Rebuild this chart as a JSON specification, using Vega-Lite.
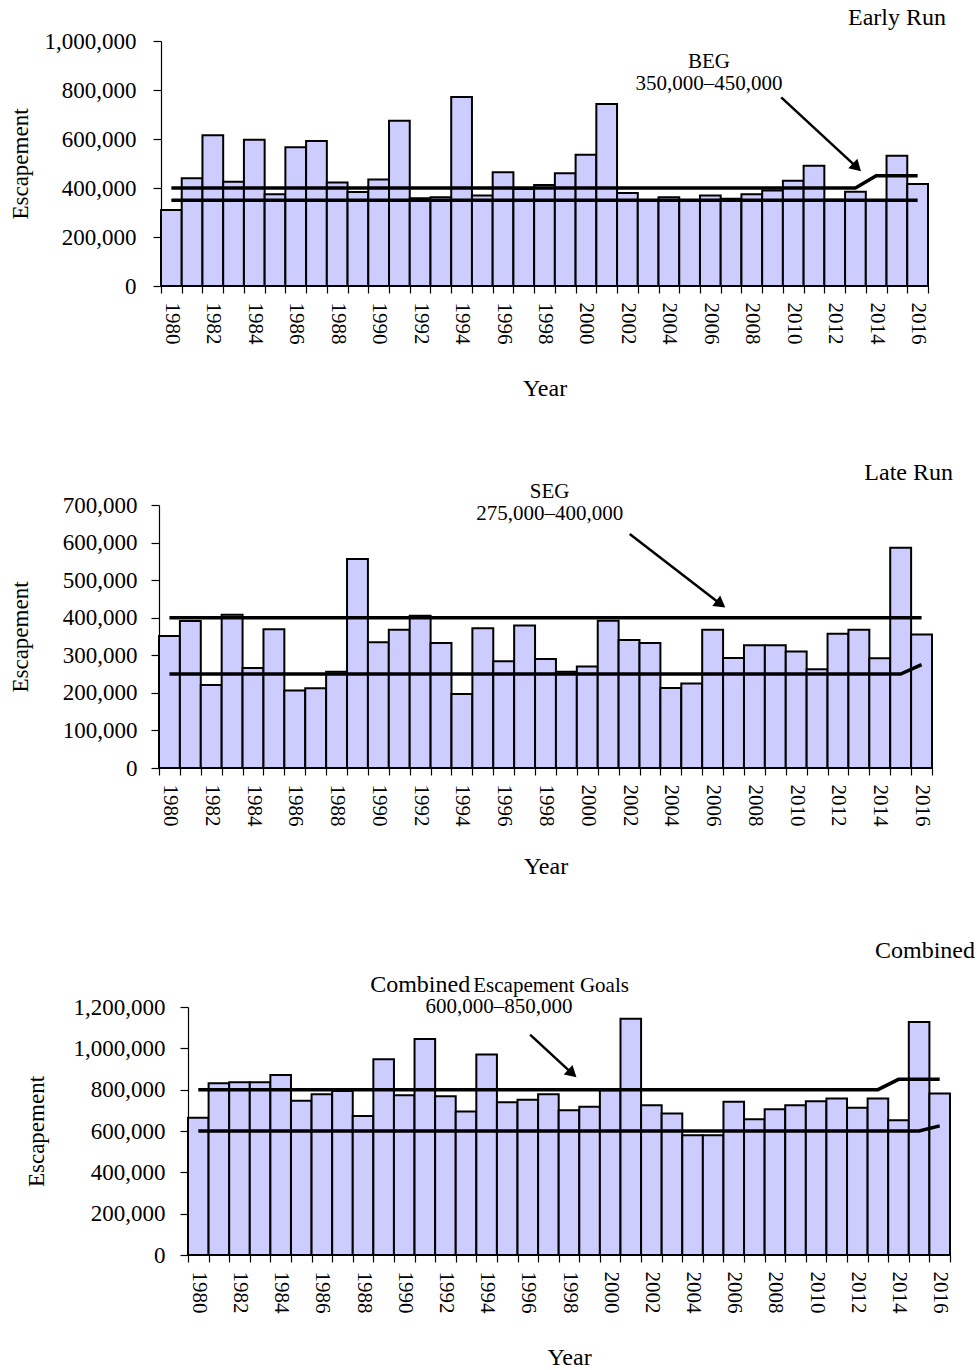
{
  "$schema": "https://vega.github.io/schema/vega-lite/v6.json",
  "background": "white",
  "padding": {"left": 8, "top": 6, "right": 5, "bottom": 0},
  "spacing": 60,
  "config": {
    "view": {"stroke": null},
    "font": "Liberation Serif",
    "axis": {"domainColor": "black", "tickColor": "black", "labelColor": "black", "titleColor": "black", "labelFont": "Liberation Serif", "titleFont": "Liberation Serif", "titleFontWeight": "normal", "grid": false, "domainWidth": 1.2, "tickWidth": 1.2},
    "axisX": {"labelAngle": 90, "labelFontSize": 21, "labelPadding": 9, "tickSize": 7, "tickBand": "extent", "titleFontSize": 24, "labelOverlap": false, "labelExpr": "datum.value % 2 == 0 ? datum.label : ''"},
    "axisY": {"labelFontSize": 23, "titleFontSize": 23, "tickSize": 8, "format": ",d", "labelOverlap": false},
    "title": {"font": "Liberation Serif", "fontWeight": "normal", "color": "black", "fontSize": 24, "anchor": "end", "frame": "group", "baseline": "alphabetic"},
    "text": {"font": "Liberation Serif", "color": "black"}
  },
  "datasets": {
    "early": [
      {"year": 1980, "escapement": 310000}, {"year": 1981, "escapement": 440000}, {"year": 1982, "escapement": 615000}, {"year": 1983, "escapement": 426000}, {"year": 1984, "escapement": 597000}, {"year": 1985, "escapement": 375000}, {"year": 1986, "escapement": 566000}, {"year": 1987, "escapement": 592000}, {"year": 1988, "escapement": 422000}, {"year": 1989, "escapement": 384000}, {"year": 1990, "escapement": 435000}, {"year": 1991, "escapement": 675000}, {"year": 1992, "escapement": 358000}, {"year": 1993, "escapement": 362000}, {"year": 1994, "escapement": 771000}, {"year": 1995, "escapement": 369000}, {"year": 1996, "escapement": 464000}, {"year": 1997, "escapement": 396000}, {"year": 1998, "escapement": 412000}, {"year": 1999, "escapement": 460000}, {"year": 2000, "escapement": 536000}, {"year": 2001, "escapement": 743000}, {"year": 2002, "escapement": 380000}, {"year": 2003, "escapement": 350000}, {"year": 2004, "escapement": 362000}, {"year": 2005, "escapement": 347000}, {"year": 2006, "escapement": 369000}, {"year": 2007, "escapement": 356000}, {"year": 2008, "escapement": 375000}, {"year": 2009, "escapement": 390000}, {"year": 2010, "escapement": 430000}, {"year": 2011, "escapement": 491000}, {"year": 2012, "escapement": 352000}, {"year": 2013, "escapement": 385000}, {"year": 2014, "escapement": 350000}, {"year": 2015, "escapement": 532000}, {"year": 2016, "escapement": 416000}
    ],
    "late": [
      {"year": 1980, "escapement": 351000}, {"year": 1981, "escapement": 391000}, {"year": 1982, "escapement": 221000}, {"year": 1983, "escapement": 408000}, {"year": 1984, "escapement": 266000}, {"year": 1985, "escapement": 369000}, {"year": 1986, "escapement": 206000}, {"year": 1987, "escapement": 212000}, {"year": 1988, "escapement": 256000}, {"year": 1989, "escapement": 556000}, {"year": 1990, "escapement": 335000}, {"year": 1991, "escapement": 368000}, {"year": 1992, "escapement": 405000}, {"year": 1993, "escapement": 333000}, {"year": 1994, "escapement": 197000}, {"year": 1995, "escapement": 372000}, {"year": 1996, "escapement": 284000}, {"year": 1997, "escapement": 379000}, {"year": 1998, "escapement": 290000}, {"year": 1999, "escapement": 256000}, {"year": 2000, "escapement": 270000}, {"year": 2001, "escapement": 392000}, {"year": 2002, "escapement": 341000}, {"year": 2003, "escapement": 333000}, {"year": 2004, "escapement": 213000}, {"year": 2005, "escapement": 225000}, {"year": 2006, "escapement": 368000}, {"year": 2007, "escapement": 293000}, {"year": 2008, "escapement": 327000}, {"year": 2009, "escapement": 327000}, {"year": 2010, "escapement": 310000}, {"year": 2011, "escapement": 263000}, {"year": 2012, "escapement": 357000}, {"year": 2013, "escapement": 368000}, {"year": 2014, "escapement": 292000}, {"year": 2015, "escapement": 586000}, {"year": 2016, "escapement": 355000}
    ],
    "combined": [
      {"year": 1980, "escapement": 664000}, {"year": 1981, "escapement": 831000}, {"year": 1982, "escapement": 836000}, {"year": 1983, "escapement": 836000}, {"year": 1984, "escapement": 871000}, {"year": 1985, "escapement": 746000}, {"year": 1986, "escapement": 778000}, {"year": 1987, "escapement": 794000}, {"year": 1988, "escapement": 672000}, {"year": 1989, "escapement": 947000}, {"year": 1990, "escapement": 773000}, {"year": 1991, "escapement": 1045000}, {"year": 1992, "escapement": 768000}, {"year": 1993, "escapement": 694000}, {"year": 1994, "escapement": 970000}, {"year": 1995, "escapement": 739000}, {"year": 1996, "escapement": 751000}, {"year": 1997, "escapement": 778000}, {"year": 1998, "escapement": 700000}, {"year": 1999, "escapement": 717000}, {"year": 2000, "escapement": 797000}, {"year": 2001, "escapement": 1143000}, {"year": 2002, "escapement": 725000}, {"year": 2003, "escapement": 685000}, {"year": 2004, "escapement": 580000}, {"year": 2005, "escapement": 580000}, {"year": 2006, "escapement": 741000}, {"year": 2007, "escapement": 657000}, {"year": 2008, "escapement": 705000}, {"year": 2009, "escapement": 725000}, {"year": 2010, "escapement": 744000}, {"year": 2011, "escapement": 757000}, {"year": 2012, "escapement": 712000}, {"year": 2013, "escapement": 757000}, {"year": 2014, "escapement": 652000}, {"year": 2015, "escapement": 1127000}, {"year": 2016, "escapement": 781000}
    ],
    "earlyGoal": [
      {"year": 1980, "goal": 400000, "bound": "upper"}, {"year": 2013, "goal": 400000, "bound": "upper"}, {"year": 2014, "goal": 450000, "bound": "upper"}, {"year": 2016, "goal": 450000, "bound": "upper"},
      {"year": 1980, "goal": 350000, "bound": "lower"}, {"year": 2016, "goal": 350000, "bound": "lower"}
    ],
    "lateGoal": [
      {"year": 1980, "goal": 400000, "bound": "upper"}, {"year": 2016, "goal": 400000, "bound": "upper"},
      {"year": 1980, "goal": 250000, "bound": "lower"}, {"year": 2015, "goal": 250000, "bound": "lower"}, {"year": 2016, "goal": 275000, "bound": "lower"}
    ],
    "combGoal": [
      {"year": 1980, "goal": 800000, "bound": "upper"}, {"year": 2013, "goal": 800000, "bound": "upper"}, {"year": 2014, "goal": 850000, "bound": "upper"}, {"year": 2016, "goal": 850000, "bound": "upper"},
      {"year": 1980, "goal": 600000, "bound": "lower"}, {"year": 2015, "goal": 600000, "bound": "lower"}, {"year": 2016, "goal": 625000, "bound": "lower"}
    ],
    "earlyArrow": [{"x0": 2009.42, "y0": 770000, "x1": 2013.07, "y1": 484000}],
    "lateArrow": [{"x0": 2002.03, "y0": 623000, "x1": 2006.39, "y1": 436000}],
    "combArrow": [{"x0": 1996.11, "y0": 1066000, "x1": 1998.16, "y1": 878000}],
    "earlyText": [{"tx": 2005.93, "ty": 913000, "label": "BEG"}, {"tx": 2005.93, "ty": 824000, "label": "350,000–450,000"}],
    "lateText": [{"tx": 1998.2, "ty": 735000, "label": "SEG"}, {"tx": 1998.2, "ty": 676000, "label": "275,000–400,000"}],
    "combTextBig": [{"tx": 1993.2, "ty": 1274000, "label": "Combined"}],
    "combTextSmall": [{"tx": 1993.35, "ty": 1274000, "label": "Escapement Goals"}],
    "combTextRange": [{"tx": 1994.6, "ty": 1201000, "label": "600,000–850,000"}],
    "none": []
  },
  "vconcat": [
    {
      "spacing": 0,
      "hconcat": [
        {"width": 1, "height": 1, "data": {"name": "none"}, "mark": "point"},
        {
          "width": 767,
          "height": 245,
          "title": {"text": "Early Run", "dx": 18, "offset": 0},
          "layer": [
            {
              "layer": [
                {
                  "data": {"name": "early"},
                  "mark": {"type": "bar", "fill": "#ccccff", "stroke": "black", "strokeWidth": 2},
                  "encoding": {
                    "x": {"field": "year", "type": "ordinal", "scale": {"domain": [1980,1981,1982,1983,1984,1985,1986,1987,1988,1989,1990,1991,1992,1993,1994,1995,1996,1997,1998,1999,2000,2001,2002,2003,2004,2005,2006,2007,2008,2009,2010,2011,2012,2013,2014,2015,2016], "paddingInner": 0, "paddingOuter": 0}, "axis": {"title": "Year", "titlePadding": 32}},
                    "y": {"field": "escapement", "type": "quantitative", "scale": {"domain": [0, 1000000], "nice": false}, "axis": {"title": "Escapement", "values": [0, 200000, 400000, 600000, 800000, 1000000], "titlePadding": 12, "labelPadding": 17}}
                  }
                },
                {
                  "data": {"name": "earlyGoal"},
                  "mark": {"type": "line", "color": "black", "strokeWidth": 3.5},
                  "encoding": {
                    "x": {"field": "year", "type": "ordinal"},
                    "y": {"field": "goal", "type": "quantitative", "axis": {"title": "Escapement", "values": [0, 200000, 400000, 600000, 800000, 1000000], "titlePadding": 12, "labelPadding": 17}},
                    "detail": {"field": "bound"}
                  }
                }
              ]
            },
            {
              "layer": [
                {
                  "data": {"name": "earlyArrow"},
                  "mark": {"type": "rule", "color": "black", "strokeWidth": 2.5},
                  "encoding": {
                    "x": {"field": "x0", "type": "quantitative", "scale": {"domain": [1979.5, 2016.5], "nice": false, "zero": false}, "axis": null},
                    "y": {"field": "y0", "type": "quantitative", "axis": {"title": "Escapement", "values": [0, 200000, 400000, 600000, 800000, 1000000], "titlePadding": 12, "labelPadding": 17}},
                    "x2": {"field": "x1"},
                    "y2": {"field": "y1"}
                  }
                },
                {
                  "data": {"name": "earlyArrow"},
                  "mark": {"type": "point", "shape": "triangle-up", "filled": true, "color": "black", "opacity": 1, "size": 170, "angle": 134},
                  "encoding": {
                    "x": {"field": "x1", "type": "quantitative"},
                    "y": {"field": "y1", "type": "quantitative", "axis": {"title": "Escapement", "values": [0, 200000, 400000, 600000, 800000, 1000000], "titlePadding": 12, "labelPadding": 17}}
                  }
                },
                {
                  "data": {"name": "earlyText"},
                  "mark": {"type": "text", "fontSize": 21, "align": "center", "baseline": "middle"},
                  "encoding": {
                    "x": {"field": "tx", "type": "quantitative"},
                    "y": {"field": "ty", "type": "quantitative", "axis": {"title": "Escapement", "values": [0, 200000, 400000, 600000, 800000, 1000000], "titlePadding": 12, "labelPadding": 17}},
                    "text": {"field": "label"}
                  }
                }
              ]
            }
          ],
          "resolve": {"scale": {"x": "independent"}}
        }
      ]
    },
    {
      "spacing": 0,
      "hconcat": [
        {"width": 1, "height": 1, "data": {"name": "none"}, "mark": "point"},
        {
          "width": 773,
          "height": 263,
          "title": {"text": "Late Run", "dx": 21, "offset": -4},
          "layer": [
            {
              "layer": [
                {
                  "data": {"name": "late"},
                  "mark": {"type": "bar", "fill": "#ccccff", "stroke": "black", "strokeWidth": 2},
                  "encoding": {
                    "x": {"field": "year", "type": "ordinal", "scale": {"domain": [1980,1981,1982,1983,1984,1985,1986,1987,1988,1989,1990,1991,1992,1993,1994,1995,1996,1997,1998,1999,2000,2001,2002,2003,2004,2005,2006,2007,2008,2009,2010,2011,2012,2013,2014,2015,2016], "paddingInner": 0, "paddingOuter": 0}, "axis": {"title": "Year", "titlePadding": 28}},
                    "y": {"field": "escapement", "type": "quantitative", "scale": {"domain": [0, 700000], "nice": false}, "axis": {"title": "Escapement", "values": [0, 100000, 200000, 300000, 400000, 500000, 600000, 700000], "titlePadding": 30, "labelPadding": 14}}
                  }
                },
                {
                  "data": {"name": "lateGoal"},
                  "mark": {"type": "line", "color": "black", "strokeWidth": 3.5},
                  "encoding": {
                    "x": {"field": "year", "type": "ordinal"},
                    "y": {"field": "goal", "type": "quantitative", "axis": {"title": "Escapement", "values": [0, 100000, 200000, 300000, 400000, 500000, 600000, 700000], "titlePadding": 30, "labelPadding": 14}},
                    "detail": {"field": "bound"}
                  }
                }
              ]
            },
            {
              "layer": [
                {
                  "data": {"name": "lateArrow"},
                  "mark": {"type": "rule", "color": "black", "strokeWidth": 2.5},
                  "encoding": {
                    "x": {"field": "x0", "type": "quantitative", "scale": {"domain": [1979.5, 2016.5], "nice": false, "zero": false}, "axis": null},
                    "y": {"field": "y0", "type": "quantitative", "axis": {"title": "Escapement", "values": [0, 100000, 200000, 300000, 400000, 500000, 600000, 700000], "titlePadding": 30, "labelPadding": 14}},
                    "x2": {"field": "x1"},
                    "y2": {"field": "y1"}
                  }
                },
                {
                  "data": {"name": "lateArrow"},
                  "mark": {"type": "point", "shape": "triangle-up", "filled": true, "color": "black", "opacity": 1, "size": 170, "angle": 127},
                  "encoding": {
                    "x": {"field": "x1", "type": "quantitative"},
                    "y": {"field": "y1", "type": "quantitative", "axis": {"title": "Escapement", "values": [0, 100000, 200000, 300000, 400000, 500000, 600000, 700000], "titlePadding": 30, "labelPadding": 14}}
                  }
                },
                {
                  "data": {"name": "lateText"},
                  "mark": {"type": "text", "fontSize": 21, "align": "center", "baseline": "middle"},
                  "encoding": {
                    "x": {"field": "tx", "type": "quantitative"},
                    "y": {"field": "ty", "type": "quantitative", "axis": {"title": "Escapement", "values": [0, 100000, 200000, 300000, 400000, 500000, 600000, 700000], "titlePadding": 30, "labelPadding": 14}},
                    "text": {"field": "label"}
                  }
                }
              ]
            }
          ],
          "resolve": {"scale": {"x": "independent"}}
        }
      ]
    },
    {
      "spacing": 0,
      "hconcat": [
        {"width": 17, "height": 1, "data": {"name": "none"}, "mark": "point"},
        {
          "width": 762,
          "height": 248,
          "title": {"text": "Combined", "dx": 25, "offset": 10},
          "layer": [
            {
              "layer": [
                {
                  "data": {"name": "combined"},
                  "mark": {"type": "bar", "fill": "#ccccff", "stroke": "black", "strokeWidth": 2},
                  "encoding": {
                    "x": {"field": "year", "type": "ordinal", "scale": {"domain": [1980,1981,1982,1983,1984,1985,1986,1987,1988,1989,1990,1991,1992,1993,1994,1995,1996,1997,1998,1999,2000,2001,2002,2003,2004,2005,2006,2007,2008,2009,2010,2011,2012,2013,2014,2015,2016], "paddingInner": 0, "paddingOuter": 0}, "axis": {"title": "Year", "titlePadding": 32}},
                    "y": {"field": "escapement", "type": "quantitative", "scale": {"domain": [0, 1200000], "nice": false}, "axis": {"title": "Escapement", "values": [0, 200000, 400000, 600000, 800000, 1000000, 1200000], "titlePadding": 25, "labelPadding": 15}}
                  }
                },
                {
                  "data": {"name": "combGoal"},
                  "mark": {"type": "line", "color": "black", "strokeWidth": 3.5},
                  "encoding": {
                    "x": {"field": "year", "type": "ordinal"},
                    "y": {"field": "goal", "type": "quantitative", "axis": {"title": "Escapement", "values": [0, 200000, 400000, 600000, 800000, 1000000, 1200000], "titlePadding": 25, "labelPadding": 15}},
                    "detail": {"field": "bound"}
                  }
                }
              ]
            },
            {
              "layer": [
                {
                  "data": {"name": "combArrow"},
                  "mark": {"type": "rule", "color": "black", "strokeWidth": 2.5},
                  "encoding": {
                    "x": {"field": "x0", "type": "quantitative", "scale": {"domain": [1979.5, 2016.5], "nice": false, "zero": false}, "axis": null},
                    "y": {"field": "y0", "type": "quantitative", "axis": {"title": "Escapement", "values": [0, 200000, 400000, 600000, 800000, 1000000, 1200000], "titlePadding": 25, "labelPadding": 15}},
                    "x2": {"field": "x1"},
                    "y2": {"field": "y1"}
                  }
                },
                {
                  "data": {"name": "combArrow"},
                  "mark": {"type": "point", "shape": "triangle-up", "filled": true, "color": "black", "opacity": 1, "size": 170, "angle": 132},
                  "encoding": {
                    "x": {"field": "x1", "type": "quantitative"},
                    "y": {"field": "y1", "type": "quantitative", "axis": {"title": "Escapement", "values": [0, 200000, 400000, 600000, 800000, 1000000, 1200000], "titlePadding": 25, "labelPadding": 15}}
                  }
                },
                {
                  "data": {"name": "combTextBig"},
                  "mark": {"type": "text", "fontSize": 24, "align": "right", "baseline": "alphabetic"},
                  "encoding": {
                    "x": {"field": "tx", "type": "quantitative"},
                    "y": {"field": "ty", "type": "quantitative", "axis": {"title": "Escapement", "values": [0, 200000, 400000, 600000, 800000, 1000000, 1200000], "titlePadding": 25, "labelPadding": 15}},
                    "text": {"field": "label"}
                  }
                },
                {
                  "data": {"name": "combTextSmall"},
                  "mark": {"type": "text", "fontSize": 21, "align": "left", "baseline": "alphabetic"},
                  "encoding": {
                    "x": {"field": "tx", "type": "quantitative"},
                    "y": {"field": "ty", "type": "quantitative", "axis": {"title": "Escapement", "values": [0, 200000, 400000, 600000, 800000, 1000000, 1200000], "titlePadding": 25, "labelPadding": 15}},
                    "text": {"field": "label"}
                  }
                },
                {
                  "data": {"name": "combTextRange"},
                  "mark": {"type": "text", "fontSize": 21, "align": "center", "baseline": "middle"},
                  "encoding": {
                    "x": {"field": "tx", "type": "quantitative"},
                    "y": {"field": "ty", "type": "quantitative", "axis": {"title": "Escapement", "values": [0, 200000, 400000, 600000, 800000, 1000000, 1200000], "titlePadding": 25, "labelPadding": 15}},
                    "text": {"field": "label"}
                  }
                }
              ]
            }
          ],
          "resolve": {"scale": {"x": "independent"}}
        }
      ]
    }
  ]
}
